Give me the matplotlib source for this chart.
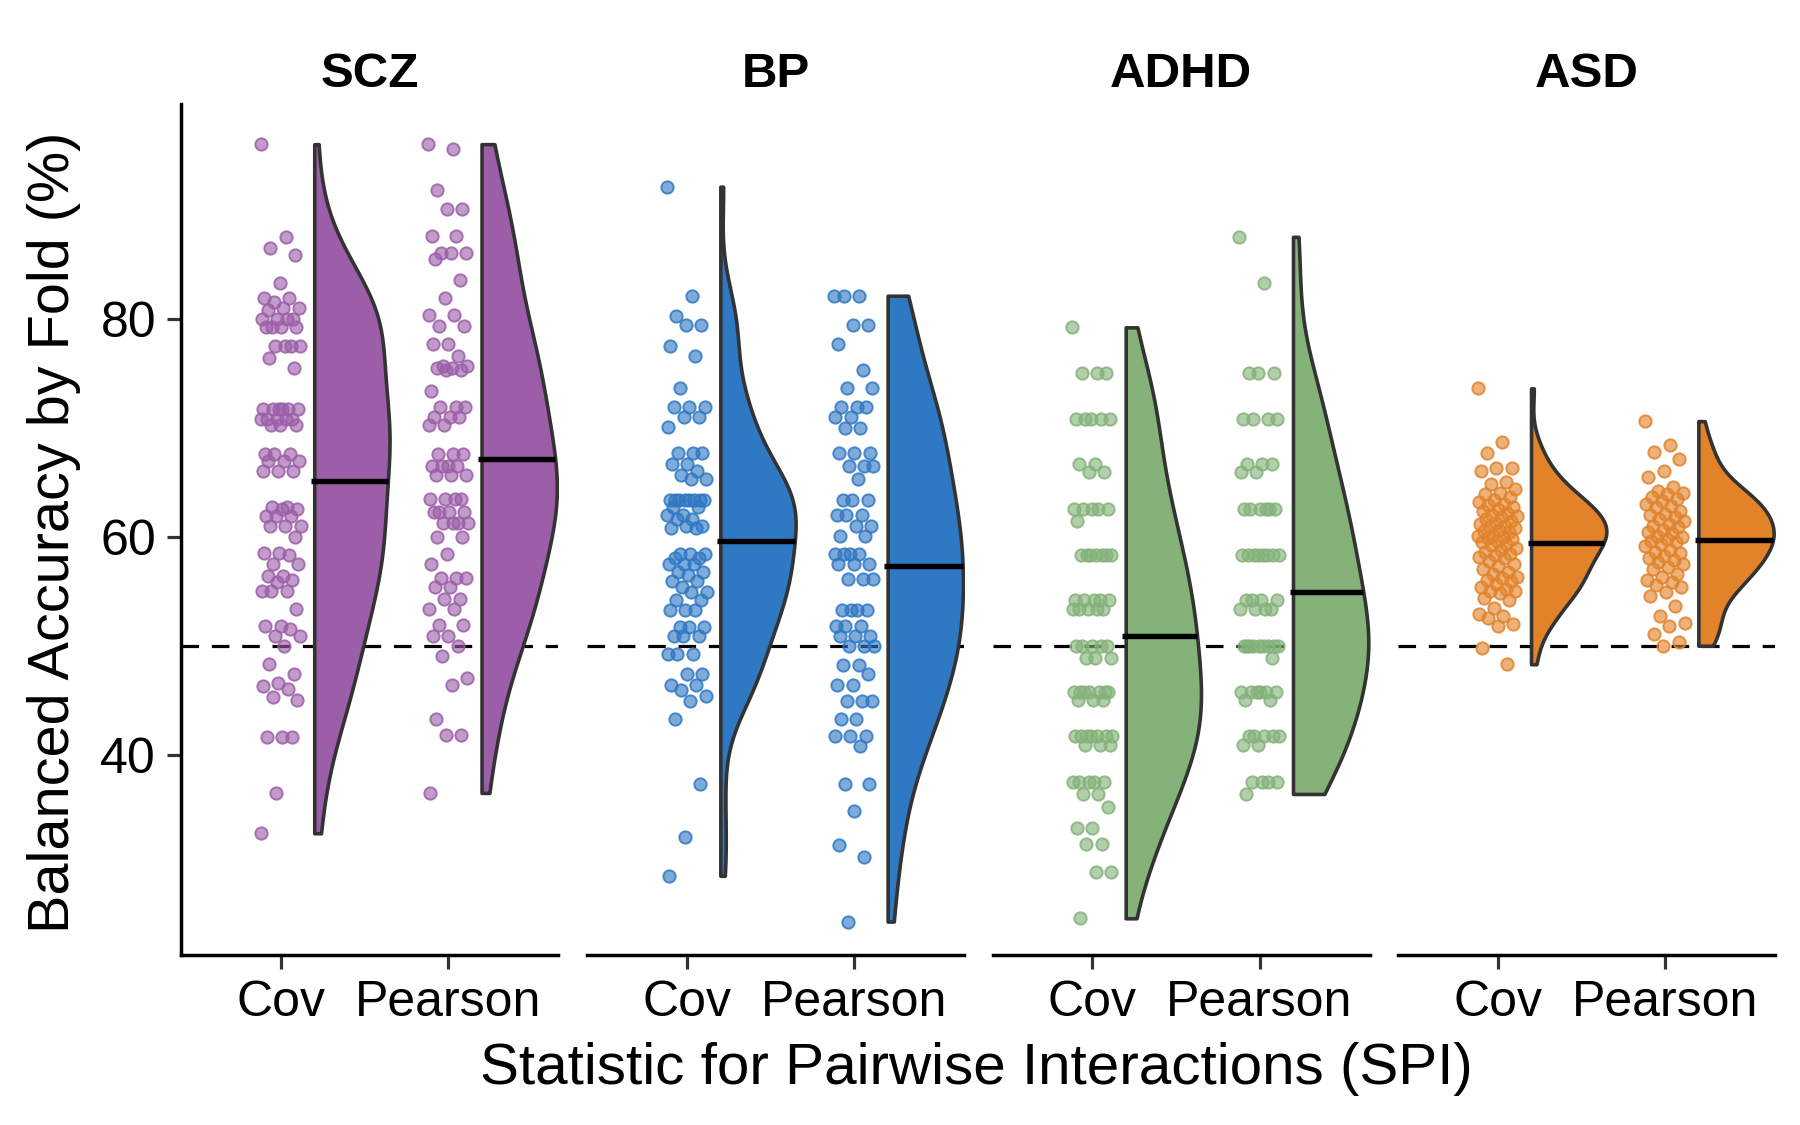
import numpy as np
import matplotlib.pyplot as plt
from matplotlib.colors import to_rgba

plt.rcParams['font.family'] = ['Liberation Sans', 'DejaVu Sans']

disorders = ['SCZ', 'BP', 'ADHD', 'ASD']
spis = ['Cov', 'Pearson']
colors = {'SCZ': '#9C5EA8', 'BP': '#2F78C4', 'ADHD': '#84B279', 'ASD': '#E2832A'}

# balanced accuracy by fold (%)
scz_cov = [96.0,
           87.5, 86.5, 85.8,
           83.3,
           81.9, 81.9, 81.5, 81.0, 81.0, 80.8,
           80.0, 80.0, 80.0, 80.0,
           79.2, 79.2, 79.2, 79.2,
           77.5, 77.5, 77.5, 77.5,
           76.4, 75.5,
           71.7, 71.7, 71.7, 71.7, 71.7, 71.7, 70.8, 70.8, 70.8, 70.8, 70.8, 70.2, 70.2, 70.2,
           67.6, 67.6, 67.6, 66.9, 66.9, 66.9, 66.0, 66.0, 66.0,
           62.7, 62.7, 62.5, 62.5, 61.9, 61.9, 61.9, 61.0, 61.0, 61.0,
           60.0,
           58.5, 58.5, 58.3, 57.5, 57.5,
           56.4, 56.4, 56.0, 55.8, 55.0, 55.0, 55.0,
           53.4,
           51.8, 51.8, 51.5, 50.9, 50.9,
           50.0,
           48.3, 47.4,
           46.6, 46.3, 46.0, 45.3, 45.0,
           41.6, 41.6, 41.6,
           36.5,
           32.8]
scz_pearson = [96.0, 95.6,
               91.8,
               90.1, 90.1,
               87.6, 87.6,
               86.0, 86.0, 86.0, 85.5,
               83.5,
               81.9,
               80.3, 80.3, 79.3, 79.3,
               77.7, 77.7, 76.6,
               75.7, 75.7, 75.5, 75.5, 75.3, 75.3,
               73.4,
               71.9, 71.9, 71.9, 71.0, 71.0, 71.0, 70.2, 70.2,
               67.6, 67.6, 67.6, 66.5, 66.5, 66.5, 66.5, 65.7, 65.7, 65.7,
               63.5, 63.5, 63.5, 63.5, 62.3, 62.3, 62.3, 62.3, 61.3, 61.3, 61.3, 61.3, 60.0, 60.0,
               58.4, 57.5,
               56.2, 56.2, 56.2, 55.4, 55.4,
               54.3, 54.3, 53.4, 53.4,
               51.9, 51.9, 50.9, 50.9,
               50.0, 49.1,
               47.0, 46.4,
               43.3,
               41.8, 41.8,
               36.5]
bp_cov = [92.1,
          82.1, 80.2, 79.4, 79.4, 77.5, 76.6,
          73.6,
          71.9, 71.9, 71.9, 71.0, 71.0, 70.1,
          67.7, 67.7, 67.7, 66.7, 66.7, 66.0, 65.7, 65.3, 65.3,
          63.4, 63.4, 63.4, 63.4, 63.4, 63.4, 63.4, 63.4,
          62.7, 62.7, 62.0, 62.0, 61.6, 61.6, 61.0, 61.0, 60.8, 60.8,
          58.4, 58.4, 58.4, 58.0, 58.0, 57.5, 57.5, 57.5,
          56.8, 56.8, 56.5, 55.9, 55.9, 55.4, 54.9, 54.9,
          54.2, 54.2, 53.3, 53.3, 53.3,
          51.7, 51.7, 51.7, 50.9, 50.9, 50.9,
          49.2, 49.2, 49.2,
          47.4, 47.4, 46.4, 46.4,
          45.9, 45.4, 44.9,
          43.3,
          37.3,
          32.5,
          28.9]
bp_pearson = [82.1, 82.1, 82.1,
              79.4, 79.4,
              77.7,
              75.3,
              73.6, 73.6,
              71.9, 71.9, 71.9, 71.0, 71.0, 70.0, 70.0,
              67.7, 67.7, 67.7, 66.5, 66.5, 66.5, 65.3,
              63.4, 63.4, 63.4, 62.0, 62.0, 62.0, 61.0, 61.0, 60.1, 60.1,
              58.4, 58.4, 58.4, 58.4, 57.5, 57.5, 57.5, 56.1, 56.1, 56.1,
              53.3, 53.3, 53.3, 53.3,
              51.8, 51.8, 51.8, 50.9, 50.9, 50.9,
              50.0, 50.0, 50.0,
              48.2, 48.2, 47.4, 46.4, 46.4,
              44.9, 44.9, 44.9,
              43.3, 43.3,
              41.7, 41.7, 41.7, 40.8,
              37.3, 37.3,
              34.8,
              31.7,
              30.6,
              24.7]
adhd_cov = [79.2,
            75.0, 75.0, 75.0,
            70.8, 70.8, 70.8, 70.8, 70.8,
            66.7, 66.7, 65.9, 65.9,
            62.5, 62.5, 62.5, 62.5, 62.5, 61.4,
            58.3, 58.3, 58.3, 58.3, 58.3, 58.3, 58.3,
            54.2, 54.2, 54.2, 54.2, 54.2, 53.4, 53.4, 53.4, 53.4, 53.4,
            50.0, 50.0, 50.0, 50.0, 50.0, 48.9, 48.9, 48.9,
            45.8, 45.8, 45.8, 45.8, 45.8, 45.8, 45.8, 45.0, 45.0, 45.0,
            41.7, 41.7, 41.7, 41.7, 41.7, 41.7, 41.7, 40.9, 40.9, 40.9,
            37.5, 37.5, 37.5, 37.5, 37.5, 36.4, 36.4, 35.2,
            33.3, 33.3, 31.8, 31.8,
            29.2, 29.2,
            25.0]
adhd_pearson = [87.5, 83.3,
                75.0, 75.0, 75.0,
                70.8, 70.8, 70.8, 70.8,
                66.7, 66.7, 66.7, 65.9, 65.9,
                62.5, 62.5, 62.5, 62.5, 62.5, 62.5,
                58.3, 58.3, 58.3, 58.3, 58.3, 58.3, 58.3, 58.3,
                54.2, 54.2, 54.2, 54.2, 53.4, 53.4, 53.4, 53.4,
                50.0, 50.0, 50.0, 50.0, 50.0, 50.0, 50.0, 50.0, 50.0, 48.9,
                45.8, 45.8, 45.8, 45.8, 45.8, 45.8, 45.0, 45.0,
                41.7, 41.7, 41.7, 41.7, 41.7, 40.9, 40.9,
                37.5, 37.5, 37.5, 37.5, 36.4]
asd_cov = [73.6,
           68.7, 67.7,
           66.3, 66.3, 66.0,
           65.0, 64.8, 64.4, 64.0, 63.9, 63.6,
           63.4, 63.2, 63.0, 62.9, 62.7, 62.5, 62.4, 62.2, 62.0, 61.9, 61.8, 61.6,
           61.4, 61.3, 61.2, 61.0, 60.9, 60.8, 60.6, 60.5, 60.4, 60.2, 60.1, 60.0, 59.9, 59.8,
           59.6, 59.5, 59.3, 59.2, 59.0, 58.8, 58.6, 58.4, 58.3, 58.1, 58.0,
           57.8, 57.5, 57.3, 57.0, 56.8, 56.6, 56.3, 56.2, 56.0,
           55.9, 55.7, 55.4, 55.2, 55.0, 55.0, 54.8,
           54.4, 54.2, 53.5,
           52.9, 52.7, 52.5,
           52.0, 51.8,
           49.8,
           48.3]
asd_pearson = [70.6,
               68.4, 67.8, 67.1,
               66.0, 65.5,
               64.6, 64.2, 64.0, 63.9, 63.6, 63.5, 63.3, 63.0, 62.8,
               62.7, 62.4, 62.1, 62.0, 61.8, 61.6, 61.4, 61.2, 61.0,
               60.9, 60.6, 60.4, 60.3, 60.1, 60.0, 59.8, 59.6, 59.5, 59.3, 59.1,
               58.8, 58.6, 58.5, 58.2, 58.0, 57.9, 57.7, 57.5, 57.2, 57.0,
               56.6, 56.3, 56.0, 55.8, 55.6, 55.4,
               54.9, 54.6,
               53.6, 52.7,
               52.1, 51.8,
               51.1,
               50.3, 50.0]

data = {
    'SCZ': [scz_cov, scz_pearson],
    'BP': [bp_cov, bp_pearson],
    'ADHD': [adhd_cov, adhd_pearson],
    'ASD': [asd_cov, asd_pearson],
}


def kde(vals, grid):
    # gaussian kernel, bandwidth like R's nrd0
    v = np.asarray(vals)
    q75, q25 = np.percentile(v, [75, 25])
    s = min(v.std(ddof=1), (q75 - q25) / 1.34)
    bw = 0.9 * s * len(v) ** (-0.2)
    z = (grid[:, None] - v[None, :]) / bw
    return np.exp(-0.5 * z ** 2).sum(axis=1)


fig = plt.figure(figsize=(18, 11.25), dpi=100)

lefts = [0.1006, 0.3262, 0.5514, 0.7766]
ax_w = 0.2095
ax_b = 0.1508
ax_h = 0.7569

nudge = 0.2
half_w = 0.45

for k, dis in enumerate(disorders):
    ax = fig.add_axes([lefts[k], ax_b, ax_w, ax_h])
    col = colors[dis]
    ax.axhline(50, color='black', lw=2.3, dashes=(5.5, 4.0), zorder=1)

    for j, vals in enumerate(data[dis]):
        pos = j + 1
        v = np.asarray(vals)
        grid = np.linspace(v.min(), v.max(), 512)
        d = kde(v, grid)
        d = d / d.max()
        base = pos + nudge
        ax.fill_betweenx(grid, base, base + half_w * d, facecolor=col,
                         edgecolor='#333333', lw=2.6, zorder=2)
        m = v.mean()
        dm = np.interp(m, grid, d)
        ax.plot([base - 0.02, base + half_w * dm], [m, m], color='black', lw=3.9,
                solid_capstyle='butt', zorder=3)

        # spread points sideways around the category
        idx = np.arange(len(v))
        jit = ((idx * 0.6180339887) % 1.0 - 0.5) * 0.24
        ax.scatter(pos + jit, v, s=78, facecolor=to_rgba(col, 0.62),
                   edgecolor=to_rgba(col, 0.85), lw=1.4, zorder=4)

    ax.set_xlim(0.404, 2.658)
    ax.set_ylim(21.6, 99.7)
    ax.set_xticks([1, 2])
    ax.set_xticklabels(spis)
    ax.set_yticks([40, 60, 80])
    for s in ['top', 'right']:
        ax.spines[s].set_visible(False)
    ax.spines['bottom'].set_linewidth(2.5)
    ax.spines['left'].set_linewidth(2.5)
    ax.tick_params(axis='both', length=10, width=2.3, labelsize=36, pad=8,
                   color='#333333', labelcolor='black')
    if k > 0:
        ax.spines['left'].set_visible(False)
        ax.tick_params(axis='y', left=False, labelleft=False)
    ax.text(0.5, 1.020, dis, transform=ax.transAxes, ha='center', va='baseline',
            fontsize=35.5, fontweight='bold')

fig.text(0.5425, 0.036, 'Statistic for Pairwise Interactions (SPI)', ha='center',
         va='baseline', fontsize=42)
fig.text(0.030, 0.527, 'Balanced Accuracy by Fold (%)', ha='center', va='center',
         rotation=90, fontsize=41.5)

fig.savefig('out.png', dpi=100)
